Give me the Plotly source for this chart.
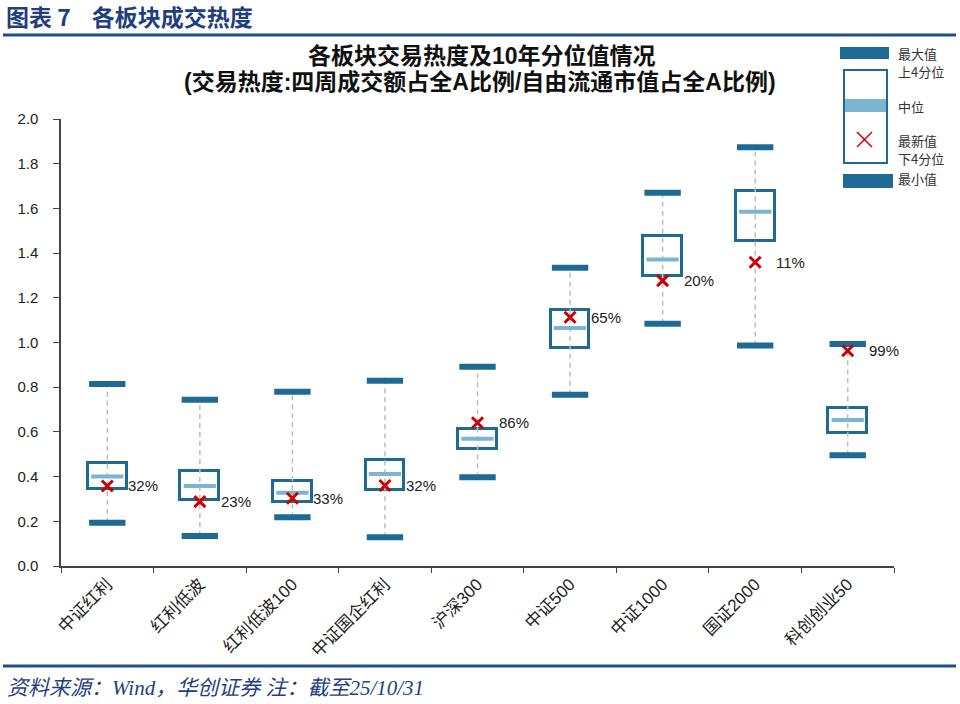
import plotly.graph_objects as go

# ---------------- data ----------------
categories = ["中证红利", "红利低波", "红利低波100", "中证国企红利", "沪深300",
              "中证500", "中证1000", "国证2000", "科创创业50"]
max_vals = [0.814, 0.744, 0.780, 0.829, 0.892, 1.334, 1.670, 1.874, 0.993]
q3_vals = [0.460, 0.426, 0.382, 0.475, 0.612, 1.144, 1.478, 1.677, 0.707]
median_vals = [0.400, 0.358, 0.328, 0.412, 0.569, 1.065, 1.371, 1.585, 0.653]
q1_vals = [0.344, 0.296, 0.288, 0.340, 0.523, 0.974, 1.296, 1.453, 0.597]
min_vals = [0.194, 0.134, 0.218, 0.129, 0.397, 0.766, 1.084, 0.987, 0.496]
latest_vals = [0.358, 0.288, 0.303, 0.360, 0.641, 1.113, 1.277, 1.359, 0.963]
pct_labels = ["32%", "23%", "33%", "32%", "86%", "65%", "20%", "11%", "99%"]
y_ticks = [0.0, 0.2, 0.4, 0.6, 0.8, 1.0, 1.2, 1.4, 1.6, 1.8, 2.0]

# ---------------- style ----------------
W, H = 960, 704
ML, MR, MT, MB = 61, 66, 119, 138
PW, PH = W - ML - MR, H - MT - MB
DARK = "#1F6A94"
LIGHT = "#7AB6D2"
RED = "#CC0000"
NAVY = "#1F3F7F"
CJK = "Noto Sans CJK SC"
LAT = "Liberation Sans, Noto Sans CJK SC"


def px(x):
    return (x - ML) / PW


def py(y):
    return (H - MB - y) / PH


fig = go.Figure()

# boxes (q1..q3)
fig.add_trace(go.Bar(
    x=categories, base=q1_vals, y=[a - b for a, b in zip(q3_vals, q1_vals)],
    width=0.42, marker=dict(color="white", line=dict(color=DARK, width=3)),
    hoverinfo="skip", showlegend=False))

# whiskers
wx, wy = [], []
for c, lo, hi in zip(categories, min_vals, max_vals):
    wx += [c, c, None]
    wy += [lo, hi, None]
fig.add_trace(go.Scatter(x=wx, y=wy, mode="lines",
                         line=dict(color="#BDBDBD", width=1.5, dash="5px,4px"),
                         hoverinfo="skip", showlegend=False))

# max / min caps
for vals in (max_vals, min_vals):
    fig.add_trace(go.Scatter(x=categories, y=vals, mode="markers",
                             marker=dict(symbol="line-ew", size=26,
                                         line=dict(color=DARK, width=6)),
                             hoverinfo="skip", showlegend=False))

# median
fig.add_trace(go.Scatter(x=categories, y=median_vals, mode="markers",
                         marker=dict(symbol="line-ew", size=23,
                                     line=dict(color=LIGHT, width=4)),
                         hoverinfo="skip", showlegend=False))

# latest
fig.add_trace(go.Scatter(x=categories, y=latest_vals, mode="markers",
                         marker=dict(symbol="x-thin", size=11,
                                     line=dict(color=RED, width=3)),
                         hoverinfo="skip", showlegend=False))

annotations = []
for c, v, t in zip(categories, latest_vals, pct_labels):
    annotations.append(dict(x=c, y=v, xref="x", yref="y", text=t, showarrow=False,
                            xanchor="left", yanchor="middle", xshift=19,
                            font=dict(family=LAT, size=15, color="#222222")))

# header / titles / footer
annotations += [
    dict(x=px(4), y=py(16), xref="paper", yref="paper",
         text="<b>图表&nbsp;7&nbsp;&nbsp;&nbsp;&nbsp;各板块成交热度</b>",
         showarrow=False, xanchor="left", yanchor="middle",
         font=dict(family=CJK, size=23, color=NAVY)),
    dict(x=px(482), y=py(56), xref="paper", yref="paper", text="<b>各板块交易热度及10年分位值情况</b>",
         showarrow=False, xanchor="center", yanchor="middle",
         font=dict(family=LAT, size=23, color="#111111")),
    dict(x=px(480), y=py(82), xref="paper", yref="paper",
         text="<b>(交易热度:四周成交额占全A比例/自由流通市值占全A比例)</b>",
         showarrow=False, xanchor="center", yanchor="middle",
         font=dict(family=LAT, size=23, color="#111111")),
    dict(x=px(5), y=py(688), xref="paper", yref="paper",
         text="<i>资料来源：Wind，华创证券 注：截至25/10/31</i>",
         showarrow=False, xanchor="left", yanchor="middle",
         font=dict(family="Liberation Serif, Noto Sans CJK SC", size=21, color=NAVY)),
]

# legend (drawn)
leg_txt = [("最大值", 53), ("上4分位", 72), ("中位", 106), ("最新值", 140), ("下4分位", 158), ("最小值", 178)]
for t, yy in leg_txt:
    annotations.append(dict(x=px(896), y=py(yy), xref="paper", yref="paper", text=t,
                            showarrow=False, xanchor="left", yanchor="middle",
                            font=dict(family=CJK, size=13, color="#333333")))

shapes = [
    # header line
    dict(type="line", xref="paper", yref="paper", x0=px(3), x1=px(956), y0=py(35), y1=py(35),
         line=dict(color="#1F4E8C", width=3)),
    # footer line
    dict(type="line", xref="paper", yref="paper", x0=px(3), x1=px(956), y0=py(666), y1=py(666),
         line=dict(color="#1F4E8C", width=3)),
    # legend
    dict(type="rect", xref="paper", yref="paper", x0=px(840), x1=px(889), y0=py(47), y1=py(59),
         fillcolor=DARK, line=dict(width=0)),
    dict(type="rect", xref="paper", yref="paper", x0=px(844), x1=px(887), y0=py(99), y1=py(112),
         fillcolor=LIGHT, line=dict(width=0)),
    dict(type="rect", xref="paper", yref="paper", x0=px(844), x1=px(887), y0=py(70), y1=py(163),
         fillcolor="rgba(0,0,0,0)", line=dict(color=DARK, width=2)),
    dict(type="line", xref="paper", yref="paper", x0=px(857), x1=px(872), y0=py(132), y1=py(147),
         line=dict(color=RED, width=1.5)),
    dict(type="line", xref="paper", yref="paper", x0=px(857), x1=px(872), y0=py(147), y1=py(132),
         line=dict(color=RED, width=1.5)),
    dict(type="rect", xref="paper", yref="paper", x0=px(843), x1=px(893), y0=py(174), y1=py(188),
         fillcolor=DARK, line=dict(width=0)),
]

fig.update_layout(
    width=W, height=H,
    margin=dict(l=ML, r=MR, t=MT, b=MB, autoexpand=False),
    paper_bgcolor="white", plot_bgcolor="white",
    showlegend=False, bargap=0,
    annotations=annotations, shapes=shapes,
    xaxis=dict(type="category", range=[-0.5, 8.5], tickson="boundaries",
               ticks="outside", ticklen=5, tickcolor="#444444",
               showline=True, linecolor="#444444", linewidth=1.5,
               showgrid=False, tickangle=-45,
               tickfont=dict(family=LAT, size=17, color="#222222")),
    yaxis=dict(range=[0, 2.0], tickvals=y_ticks, tickformat=".1f",
               ticks="outside", ticklen=6, tickcolor="#444444",
               showline=True, linecolor="#444444", linewidth=1.5,
               showgrid=False, zeroline=False, ticklabelstandoff=12,
               tickfont=dict(family=LAT, size=15, color="#222222")),
)

fig.write_html("out.html", config={"displayModeBar": False},
               post_script="document.body.style.margin='0';document.body.style.overflow='hidden';")
